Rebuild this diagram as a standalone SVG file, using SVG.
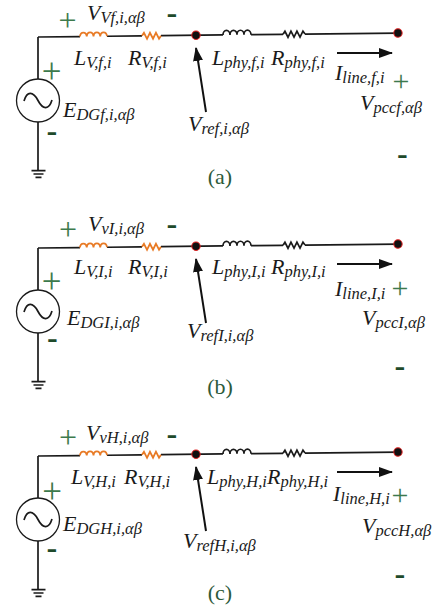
<svg xmlns="http://www.w3.org/2000/svg" width="432" height="610" viewBox="0 0 432 610">
<style>
.w{stroke:#1a1a1a;stroke-width:1.7;fill:none}
.o{stroke:#e87a25;stroke-width:1.8;fill:none}
.src{stroke:#1a1a1a;stroke-width:1.3;fill:#fff}
.nd{fill:#111;stroke:#e02020;stroke-width:1}
.ar{stroke:#111;stroke-width:2;fill:none}
.lbl{font-family:"Liberation Serif",serif;font-style:italic;font-size:22px;fill:#1a1a1a}
.sub{font-size:16.5px}
.plus{font-family:"Liberation Serif",serif;fill:#3d7a4c;text-anchor:middle}
.p1{font-size:32px}
.p2{font-size:35px}
.p3{font-size:30px}
.minus{font-family:"Liberation Sans",sans-serif;font-weight:bold;fill:#1e4a2b;text-anchor:middle;font-size:24px}
.cap{font-family:"Liberation Serif",serif;font-size:22px;fill:#2d5a3a;text-anchor:middle}
</style>
<defs>
<marker id="ah" viewBox="0 0 14 10" refX="13" refY="5" markerWidth="14" markerHeight="10" markerUnits="userSpaceOnUse" orient="auto">
<path d="M0,0 L14,5 L0,10 Z" fill="#111"/>
</marker>
<g id="circuit">
<g transform="rotate(-0.63 38 37)">
<path class="w" d="M38,37 H80 M107,37 H142 M161,37 H223 M251,37 H283 M305,37 H398"/>
<path class="o" d="M80,37 a3.4,4.5 0 0 1 6.75,0 a3.4,4.5 0 0 1 6.75,0 a3.4,4.5 0 0 1 6.75,0 a3.4,4.5 0 0 1 6.75,0"/>
<path class="o" d="M142,37 L144,34 L147,40 L150,34 L153,40 L156,34 L159,40 L161,37"/>
<path class="w" d="M223,37 a3.5,4.5 0 0 1 7,0 a3.5,4.5 0 0 1 7,0 a3.5,4.5 0 0 1 7,0 a3.5,4.5 0 0 1 7,0"/>
<path class="w" d="M283,37 L285,34 L288,40 L291,34 L294,40 L297,34 L300,40 L303,34 L305,37"/>
<circle class="nd" cx="196" cy="37" r="4.2"/>
<circle class="nd" cx="398" cy="37" r="4.2"/>
</g>
<path class="w" d="M38,37 V79 M38,122 V170.7"/>
<circle class="src" cx="38" cy="100.5" r="21.5"/>
<path class="w" stroke-width="1.3" d="M24,101 C27,91 33,91 38,100.5 C43,110 49,110 52,100"/>
<path class="w" stroke-width="1.4" d="M31.5,170.7 H45.5 M33.5,174 H43.5 M35.5,177.3 H41.5"/>
<line class="ar" x1="206" y1="112" x2="196" y2="48" marker-end="url(#ah)"/>
<line class="ar" x1="337" y1="53" x2="392" y2="53" marker-end="url(#ah)"/>
</g>
</defs>

<g id="connectors">
<use href="#circuit"/>
<use href="#circuit" transform="translate(0 211)"/>
<use href="#circuit" transform="translate(0 419)"/>
</g>

<g id="panel-a">
<text class="plus p1" x="67.5" y="31">+</text>
<text class="minus" transform="translate(172 22.2) scale(1.35 1)">-</text>
<text class="plus p2" x="51.5" y="82.75">+</text>
<text class="minus" transform="translate(52 140.2) scale(1.35 1)">-</text>
<text class="plus p3" x="401" y="90.5">+</text>
<text class="minus" transform="translate(402.5 162.7) scale(1.35 1)">-</text>
<text class="lbl" x="87" y="19.5">V<tspan class="sub" dy="3">Vf,i,αβ</tspan></text>
<text class="lbl" x="74" y="65">L<tspan class="sub" dy="3">V,f,i</tspan></text>
<text class="lbl" x="128" y="65">R<tspan class="sub" dy="3">V,f,i</tspan></text>
<text class="lbl" x="63" y="117">E<tspan class="sub" dy="3">DGf,i,αβ</tspan></text>
<text class="lbl" x="188" y="131">V<tspan class="sub" dy="3">ref,i,αβ</tspan></text>
<text class="lbl" x="212" y="65">L<tspan class="sub" dy="3">phy,f,i</tspan></text>
<text class="lbl" x="271" y="65">R<tspan class="sub" dy="3">phy,f,i</tspan></text>
<text class="lbl" x="335" y="80">I<tspan class="sub" dy="3">line,f,i</tspan></text>
<text class="lbl" x="360" y="110">V<tspan class="sub" dy="3">pccf,αβ</tspan></text>
<text class="cap" x="220" y="184">(a)</text>
</g>

<g id="panel-b">
<text class="plus p1" x="68" y="240">+</text>
<text class="minus" transform="translate(172 233.2) scale(1.35 1)">-</text>
<text class="plus p2" x="51.5" y="293.25">+</text>
<text class="minus" transform="translate(52.5 346.7) scale(1.35 1)">-</text>
<text class="plus p3" x="400" y="297.5">+</text>
<text class="minus" transform="translate(400 374.7) scale(1.35 1)">-</text>
<text class="lbl" x="88" y="231">V<tspan class="sub" dy="3">vI,i,αβ</tspan></text>
<text class="lbl" x="74" y="274">L<tspan class="sub" dy="3">V,I,i</tspan></text>
<text class="lbl" x="128" y="274">R<tspan class="sub" dy="3">V,I,i</tspan></text>
<text class="lbl" x="67" y="325">E<tspan class="sub" dy="3">DGI,i,αβ</tspan></text>
<text class="lbl" x="187" y="338">V<tspan class="sub" dy="3">refI,i,αβ</tspan></text>
<text class="lbl" x="212" y="274">L<tspan class="sub" dy="3">phy,I,i</tspan></text>
<text class="lbl" x="271" y="274">R<tspan class="sub" dy="3">phy,I,i</tspan></text>
<text class="lbl" x="335" y="296">I<tspan class="sub" dy="3">line,I,i</tspan></text>
<text class="lbl" x="362" y="325">V<tspan class="sub" dy="3">pccI,αβ</tspan></text>
<text class="cap" x="220" y="394">(b)</text>
</g>

<g id="panel-c">
<text class="plus p1" x="68" y="448">+</text>
<text class="minus" transform="translate(172 443.2) scale(1.35 1)">-</text>
<text class="plus p2" x="52" y="502.75">+</text>
<text class="minus" transform="translate(52 557.2) scale(1.35 1)">-</text>
<text class="plus p3" x="400" y="504.5">+</text>
<text class="minus" transform="translate(400 583.2) scale(1.35 1)">-</text>
<text class="lbl" x="86" y="440">V<tspan class="sub" dy="3">vH,i,αβ</tspan></text>
<text class="lbl" x="71" y="484">L<tspan class="sub" dy="3">V,H,i</tspan></text>
<text class="lbl" x="124" y="484">R<tspan class="sub" dy="3">V,H,i</tspan></text>
<text class="lbl" x="63" y="531">E<tspan class="sub" dy="3">DGH,i,αβ</tspan></text>
<text class="lbl" x="183" y="548">V<tspan class="sub" dy="3">refH,i,αβ</tspan></text>
<text class="lbl" x="207" y="484">L<tspan class="sub" dy="3">phy,H,i</tspan></text>
<text class="lbl" x="267" y="484">R<tspan class="sub" dy="3">phy,H,i</tspan></text>
<text class="lbl" x="333" y="501">I<tspan class="sub" dy="3">line,H,i</tspan></text>
<text class="lbl" x="362" y="533">V<tspan class="sub" dy="3">pccH,αβ</tspan></text>
<text class="cap" x="220" y="600">(c)</text>
</g>
</svg>
